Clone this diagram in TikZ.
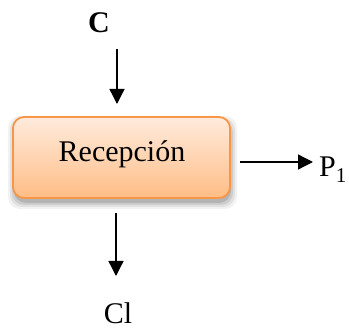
\documentclass[tikz,border=0pt]{standalone}
\usepackage{fontspec}
\setmainfont{Liberation Serif}
\usetikzlibrary{arrows.meta,calc}
\definecolor{boxedge}{HTML}{F79646}
\definecolor{boxtop}{HTML}{FFEBDD}
\definecolor{boxbot}{HTML}{FFBD86}
\begin{document}
\begin{tikzpicture}[x=1pt,y=-1pt,
  lbl/.style={inner sep=0pt,font=\fontsize{30}{36}\selectfont},
  flow/.style={line width=1.3pt,-{Triangle[length=15pt,width=15pt]}},
  procbox/.style={draw=boxedge,line width=1.8pt,rounded corners=11pt,
    top color=boxtop,bottom color=boxbot,minimum width=217pt,minimum height=81pt,
    inner sep=0pt}]
\useasboundingbox (0,0) rectangle (349,329);
% shadow
\foreach \i/\o in {6/0.05,4/0.07,2/0.09,0/0.12}{
  \fill[black,opacity=\o,rounded corners=12pt]
    (13-\i+1,117-\i+5) rectangle (230+\i+1,198+\i+5);
}
\node[procbox] (box) at (121.5,157.5) {};
\node[lbl,anchor=base] (rec) at (122,162) {Recepción};
\node[lbl,anchor=base,font=\fontsize{30}{36}\selectfont\bfseries] (C) at (99,33) {C};
\node[lbl,anchor=base] (Cl) at (118,324) {Cl};
\node[lbl,anchor=base west] (P) at (319,177) {P\textsubscript{1}};
\coordinate (a1s) at (117,49);
\coordinate (a1e) at (117,104);
\coordinate (a2s) at (116,213);
\coordinate (a2e) at (116,276);
\coordinate (a3s) at (240,162);
\coordinate (a3e) at (313,162);
\draw[flow] (a1s) -- (a1e);
\draw[flow] (a2s) -- (a2e);
\draw[flow] (a3s) -- (a3e);
\end{tikzpicture}
\end{document}
